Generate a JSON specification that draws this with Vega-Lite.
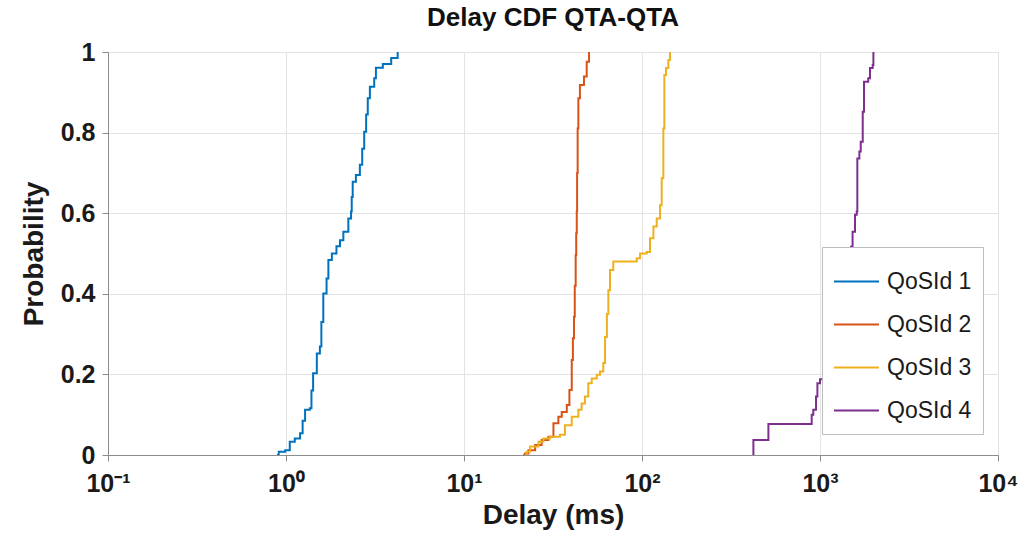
{
  "$schema": "https://vega.github.io/schema/vega-lite/v6.json",
  "autosize": {"type": "none"},
  "padding": {"left": 108, "top": 52, "right": 37, "bottom": 79},
  "width": 890,
  "height": 403,
  "background": "white",
  "title": {"text": "Delay CDF QTA-QTA", "fontSize": 26, "fontWeight": "bold", "font": "Liberation Sans", "color": "#111111", "offset": 9},
  "config": {
    "view": {"stroke": "#d9d9d9"},
    "axis": {"labelFont": "Liberation Sans", "titleFont": "Liberation Sans", "labelFontWeight": "bold", "titleFontWeight": "bold", "labelColor": "#1a1a1a", "titleColor": "#1a1a1a", "gridColor": "#e3e3e3", "domainColor": "#8c8c8c", "tickColor": "#8c8c8c"},
    "legend": {"labelFont": "Liberation Sans"}
  },
  "data": {"values": [
    {"q": "QoSId 1", "x": 0.89, "p": 0},
    {"q": "QoSId 1", "x": 0.91, "p": 0.008},
    {"q": "QoSId 1", "x": 0.99, "p": 0.012},
    {"q": "QoSId 1", "x": 1.05, "p": 0.033},
    {"q": "QoSId 1", "x": 1.12, "p": 0.041},
    {"q": "QoSId 1", "x": 1.2, "p": 0.054},
    {"q": "QoSId 1", "x": 1.24, "p": 0.085},
    {"q": "QoSId 1", "x": 1.28, "p": 0.112},
    {"q": "QoSId 1", "x": 1.36, "p": 0.116},
    {"q": "QoSId 1", "x": 1.39, "p": 0.16},
    {"q": "QoSId 1", "x": 1.42, "p": 0.203},
    {"q": "QoSId 1", "x": 1.49, "p": 0.252},
    {"q": "QoSId 1", "x": 1.55, "p": 0.269},
    {"q": "QoSId 1", "x": 1.58, "p": 0.33},
    {"q": "QoSId 1", "x": 1.62, "p": 0.401},
    {"q": "QoSId 1", "x": 1.69, "p": 0.438},
    {"q": "QoSId 1", "x": 1.73, "p": 0.484},
    {"q": "QoSId 1", "x": 1.81, "p": 0.5},
    {"q": "QoSId 1", "x": 1.92, "p": 0.518},
    {"q": "QoSId 1", "x": 2.01, "p": 0.533},
    {"q": "QoSId 1", "x": 2.1, "p": 0.554},
    {"q": "QoSId 1", "x": 2.24, "p": 0.587},
    {"q": "QoSId 1", "x": 2.32, "p": 0.604},
    {"q": "QoSId 1", "x": 2.34, "p": 0.64},
    {"q": "QoSId 1", "x": 2.37, "p": 0.678},
    {"q": "QoSId 1", "x": 2.47, "p": 0.695},
    {"q": "QoSId 1", "x": 2.6, "p": 0.72},
    {"q": "QoSId 1", "x": 2.68, "p": 0.76},
    {"q": "QoSId 1", "x": 2.75, "p": 0.802},
    {"q": "QoSId 1", "x": 2.82, "p": 0.845},
    {"q": "QoSId 1", "x": 2.88, "p": 0.885},
    {"q": "QoSId 1", "x": 2.96, "p": 0.914},
    {"q": "QoSId 1", "x": 3.13, "p": 0.935},
    {"q": "QoSId 1", "x": 3.2, "p": 0.961},
    {"q": "QoSId 1", "x": 3.5, "p": 0.97},
    {"q": "QoSId 1", "x": 3.9, "p": 0.985},
    {"q": "QoSId 1", "x": 4.24, "p": 1.0},
    {"q": "QoSId 2", "x": 21.5, "p": 0},
    {"q": "QoSId 2", "x": 22, "p": 0.004},
    {"q": "QoSId 2", "x": 23, "p": 0.012},
    {"q": "QoSId 2", "x": 25.1, "p": 0.025},
    {"q": "QoSId 2", "x": 27.3, "p": 0.037},
    {"q": "QoSId 2", "x": 29.8, "p": 0.045},
    {"q": "QoSId 2", "x": 31.8, "p": 0.079},
    {"q": "QoSId 2", "x": 33.9, "p": 0.095},
    {"q": "QoSId 2", "x": 35.4, "p": 0.107},
    {"q": "QoSId 2", "x": 37.8, "p": 0.124},
    {"q": "QoSId 2", "x": 39.1, "p": 0.161},
    {"q": "QoSId 2", "x": 40.3, "p": 0.236},
    {"q": "QoSId 2", "x": 40.9, "p": 0.29},
    {"q": "QoSId 2", "x": 41.5, "p": 0.343},
    {"q": "QoSId 2", "x": 41.9, "p": 0.42},
    {"q": "QoSId 2", "x": 42.4, "p": 0.496},
    {"q": "QoSId 2", "x": 42.7, "p": 0.55},
    {"q": "QoSId 2", "x": 43, "p": 0.604},
    {"q": "QoSId 2", "x": 43.2, "p": 0.7},
    {"q": "QoSId 2", "x": 43.5, "p": 0.81},
    {"q": "QoSId 2", "x": 43.9, "p": 0.885},
    {"q": "QoSId 2", "x": 44.8, "p": 0.918},
    {"q": "QoSId 2", "x": 47.2, "p": 0.939},
    {"q": "QoSId 2", "x": 48.9, "p": 0.976},
    {"q": "QoSId 2", "x": 50.4, "p": 1.0},
    {"q": "QoSId 3", "x": 22, "p": 0},
    {"q": "QoSId 3", "x": 22.5, "p": 0.008},
    {"q": "QoSId 3", "x": 23.5, "p": 0.021},
    {"q": "QoSId 3", "x": 26.2, "p": 0.033},
    {"q": "QoSId 3", "x": 27.9, "p": 0.041},
    {"q": "QoSId 3", "x": 30.4, "p": 0.045},
    {"q": "QoSId 3", "x": 34.6, "p": 0.05},
    {"q": "QoSId 3", "x": 36.9, "p": 0.074},
    {"q": "QoSId 3", "x": 40.3, "p": 0.095},
    {"q": "QoSId 3", "x": 43.9, "p": 0.112},
    {"q": "QoSId 3", "x": 45.8, "p": 0.128},
    {"q": "QoSId 3", "x": 47.8, "p": 0.145},
    {"q": "QoSId 3", "x": 49.9, "p": 0.178},
    {"q": "QoSId 3", "x": 52.2, "p": 0.19},
    {"q": "QoSId 3", "x": 55.7, "p": 0.199},
    {"q": "QoSId 3", "x": 58.1, "p": 0.207},
    {"q": "QoSId 3", "x": 60.6, "p": 0.228},
    {"q": "QoSId 3", "x": 62, "p": 0.293},
    {"q": "QoSId 3", "x": 63.5, "p": 0.35},
    {"q": "QoSId 3", "x": 64.7, "p": 0.409},
    {"q": "QoSId 3", "x": 66.1, "p": 0.459},
    {"q": "QoSId 3", "x": 69, "p": 0.48},
    {"q": "QoSId 3", "x": 93.4, "p": 0.488},
    {"q": "QoSId 3", "x": 97.5, "p": 0.5},
    {"q": "QoSId 3", "x": 106.3, "p": 0.504},
    {"q": "QoSId 3", "x": 110.9, "p": 0.538},
    {"q": "QoSId 3", "x": 115.9, "p": 0.567},
    {"q": "QoSId 3", "x": 121, "p": 0.587},
    {"q": "QoSId 3", "x": 126.3, "p": 0.62},
    {"q": "QoSId 3", "x": 129, "p": 0.687},
    {"q": "QoSId 3", "x": 131.8, "p": 0.81},
    {"q": "QoSId 3", "x": 133.5, "p": 0.943},
    {"q": "QoSId 3", "x": 136.5, "p": 0.96},
    {"q": "QoSId 3", "x": 140.6, "p": 0.98},
    {"q": "QoSId 3", "x": 143.7, "p": 1.0},
    {"q": "QoSId 4", "x": 422, "p": 0},
    {"q": "QoSId 4", "x": 422.5, "p": 0.037},
    {"q": "QoSId 4", "x": 513, "p": 0.077},
    {"q": "QoSId 4", "x": 898, "p": 0.1},
    {"q": "QoSId 4", "x": 917, "p": 0.112},
    {"q": "QoSId 4", "x": 950, "p": 0.145},
    {"q": "QoSId 4", "x": 967, "p": 0.178},
    {"q": "QoSId 4", "x": 1000, "p": 0.188},
    {"q": "QoSId 4", "x": 1100, "p": 0.25},
    {"q": "QoSId 4", "x": 1200, "p": 0.33},
    {"q": "QoSId 4", "x": 1300, "p": 0.41},
    {"q": "QoSId 4", "x": 1420, "p": 0.48},
    {"q": "QoSId 4", "x": 1493, "p": 0.517},
    {"q": "QoSId 4", "x": 1524, "p": 0.554},
    {"q": "QoSId 4", "x": 1573, "p": 0.596},
    {"q": "QoSId 4", "x": 1608, "p": 0.604},
    {"q": "QoSId 4", "x": 1621, "p": 0.736},
    {"q": "QoSId 4", "x": 1664, "p": 0.753},
    {"q": "QoSId 4", "x": 1694, "p": 0.777},
    {"q": "QoSId 4", "x": 1738, "p": 0.852},
    {"q": "QoSId 4", "x": 1767, "p": 0.926},
    {"q": "QoSId 4", "x": 1867, "p": 0.935},
    {"q": "QoSId 4", "x": 1909, "p": 0.96},
    {"q": "QoSId 4", "x": 1977, "p": 0.968},
    {"q": "QoSId 4", "x": 1995, "p": 1.0}
  ]},
  "mark": {"type": "line", "interpolate": "step-after", "strokeWidth": 2, "clip": true},
  "encoding": {
    "x": {"field": "x", "type": "quantitative",
      "scale": {"type": "log", "domain": [0.1, 10000], "nice": false},
      "axis": {"title": "Delay (ms)", "values": [0.1, 1, 10, 100, 1000, 10000],
        "labelExpr": "datum.value < 0.5 ? '10⁻¹' : datum.value < 5 ? '10⁰' : datum.value < 50 ? '10¹' : datum.value < 500 ? '10²' : datum.value < 5000 ? '10³' : '10⁴'",
        "labelFontSize": 25, "titleFontSize": 28, "labelPadding": 10, "titlePadding": 5, "tickSize": 6, "grid": true, "labelFlush": false}},
    "y": {"field": "p", "type": "quantitative",
      "scale": {"domain": [0, 1], "nice": false},
      "axis": {"title": "Probability", "values": [0, 0.2, 0.4, 0.6, 0.8, 1], "format": "~g",
        "labelFontSize": 25, "titleFontSize": 28, "labelPadding": 7, "titlePadding": 12, "tickSize": 6, "grid": true}},
    "color": {"field": "q", "type": "nominal",
      "scale": {"domain": ["QoSId 1", "QoSId 2", "QoSId 3", "QoSId 4"], "range": ["#0072BD", "#D95319", "#EDB120", "#7E2F8E"]},
      "legend": {"title": null, "orient": "none", "legendX": 714, "legendY": 195, "fillColor": "white", "strokeColor": "#bdbdbd", "padding": 11, "symbolType": "stroke", "symbolSize": 2025, "symbolStrokeWidth": 2, "labelFontSize": 23, "labelColor": "#1a1a1a", "labelOffset": 7, "rowPadding": 7}},
    "order": [{"field": "p", "type": "quantitative"}, {"field": "x", "type": "quantitative"}]
  }
}
